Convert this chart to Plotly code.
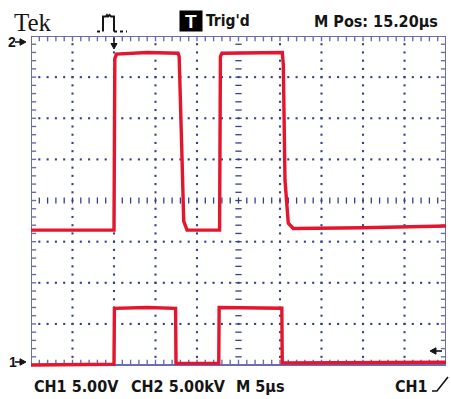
import plotly.graph_objects as go

# ---------------- data (time in µs, level in divisions) ----------------
ch2_t = [0, 10.0, 10.1, 10.3, 14.0, 17.72, 17.85, 17.95, 18.2, 18.4, 18.8, 22.72, 22.82, 23.0, 27.0, 30.28, 30.4, 30.6, 31.0, 31.6, 40.0, 50.0]
ch2_v = [-0.72, -0.72, 3.45, 3.56, 3.6, 3.58, 3.5, 2.5, 1.0, -0.5, -0.72, -0.72, 3.5, 3.58, 3.6, 3.6, 3.3, 0.5, -0.55, -0.68, -0.66, -0.62]

ch1_t = [0, 10.0, 10.05, 14.0, 17.42, 17.47, 20.0, 22.62, 22.67, 27.0, 30.22, 30.27, 40.0, 50.0]
ch1_v = [-4.0, -3.98, -2.62, -2.6, -2.62, -3.96, -3.96, -3.96, -2.6, -2.6, -2.62, -3.95, -3.95, -3.93]

top_labels = ["Tek", "Trig'd", "M Pos: 15.20µs"]
bottom_labels = ["CH1 5.00V", "CH2 5.00kV", "M 5µs", "CH1"]
channel_markers = ["2", "1"]

# ---------------- layout geometry ----------------
W, H = 451, 399
ML, MR, MT, MB = 31, 5, 36, 29
PW, PH = W - ML - MR, H - MT - MB
X_RANGE = [0, 50]
Y_RANGE = [-4.12, 4.0]

RED = "#e3162d"
FRAME = "#6a6cb6"
DOT = "#34408a"
INK = "#151515"


def px(x):
    return (x - ML) / PW


def py(y):
    return 1 - (y - MT) / PH


fig = go.Figure()

# ----- graticule segments -----
seg_x, seg_y = [], []


def seg(x0, y0, x1, y1):
    seg_x.extend([x0, x1, None])
    seg_y.extend([y0, y1, None])


tick_v = 0.13   # ~5px vertical
tick_h = 0.62   # ~5px horizontal
for i in range(1, 50):
    seg(i, 4, i, 4 - tick_v)
    seg(i, -4, i, -4 + tick_v)
yv = [round(-3.8 + 0.2 * k, 2) for k in range(39)]
for j in yv:
    seg(0, j, tick_h, j)
    seg(50, j, 50 - tick_h, j)

fig.add_trace(go.Scatter(x=seg_x, y=seg_y, mode="lines",
                         line=dict(color=FRAME, width=1.4),
                         hoverinfo="skip", showlegend=False))

# center cross ticks
cx, cy = [], []
for i in range(1, 50):
    cx.extend([i, i, None])
    cy.extend([-0.075, 0.075, None])
for j in yv:
    cx.extend([25 - 0.38, 25 + 0.38, None])
    cy.extend([j, j, None])
fig.add_trace(go.Scatter(x=cx, y=cy, mode="lines",
                         line=dict(color=DOT, width=1.3),
                         hoverinfo="skip", showlegend=False))

# dotted grid lines
dx, dy = [], []
for xm in [5, 10, 15, 20, 30, 35, 40, 45]:
    for j in yv:
        dx.append(xm)
        dy.append(j)
for ym in [-3, -2, -1, 1, 2, 3]:
    for i in range(1, 50):
        dx.append(i)
        dy.append(ym)
fig.add_trace(go.Scatter(x=dx, y=dy, mode="markers",
                         marker=dict(color=DOT, size=2.1, symbol="square"),
                         hoverinfo="skip", showlegend=False))

# ----- signal traces -----
fig.add_trace(go.Scatter(x=ch2_t, y=ch2_v, mode="lines",
                         line=dict(color=RED, width=3.4),
                         hoverinfo="skip", showlegend=False))
fig.add_trace(go.Scatter(x=ch1_t, y=ch1_v, mode="lines",
                         line=dict(color=RED, width=3.4),
                         hoverinfo="skip", showlegend=False))

shapes = []
# frame
shapes.append(dict(type="rect", xref="x", yref="y", x0=0, x1=50, y0=-4, y1=4,
                   line=dict(color=FRAME, width=2), layer="below"))


def path_shape(pts, close=False, fill=None, width=1.8, dash=None, color=INK):
    d = "M " + " L ".join(f"{px(x):.5f},{py(y):.5f}" for x, y in pts)
    if close:
        d += " Z"
    s = dict(type="path", xref="paper", yref="paper", path=d,
             line=dict(color=color, width=width))
    if dash:
        s["line"]["dash"] = dash
    if fill:
        s["fillcolor"] = fill
    return s


# pulse (trigger type) icon
shapes.append(path_shape([(103, 31.5), (103, 16.5), (106, 16.5), (107, 15), (108, 16.5),
                          (109.5, 15), (111, 16.5), (114, 16.5), (114, 31.5)], width=2))
shapes.append(path_shape([(97, 31.5), (103, 31.5)], width=2, dash="dot"))
shapes.append(path_shape([(114, 31.5), (127, 31.5)], width=2, dash="dot"))

# trigger position arrow (down)
shapes.append(path_shape([(114, 37.5), (114, 44)], width=1.5))
shapes.append(path_shape([(111, 43.5), (117, 43.5), (114, 49)], close=True, fill=INK, width=1))

# channel markers arrows
for yy in (42, 362):
    shapes.append(path_shape([(15, yy), (21, yy)], width=1.6))
    shapes.append(path_shape([(20, yy - 3.2), (26, yy), (20, yy + 3.2)], close=True, fill=INK, width=1))

# trigger level arrow (left)
shapes.append(path_shape([(435, 351), (442, 351)], width=1.6))
shapes.append(path_shape([(436, 347.8), (430, 351), (436, 354.2)], close=True, fill=INK, width=1))

# rising edge symbol
shapes.append(path_shape([(432, 391), (437, 391), (448, 377)], width=1.6))

NARROW = "DejaVu Sans Condensed, DejaVu Sans, sans-serif"

annotations = []


def text(s, x, y, size, family=NARROW, xanchor="left", weight="bold", color=INK):
    annotations.append(dict(text=s, x=px(x), y=py(y), xref="paper", yref="paper",
                            xanchor=xanchor, yanchor="middle", showarrow=False,
                            font=dict(family=family, size=size, color=color, weight=weight)))


text(top_labels[0], 12, 23, 25, family="Liberation Serif, Times New Roman, serif", weight="normal")
text(top_labels[1], 204, 21, 15.5)
text(top_labels[2], 440, 21, 16, xanchor="right")

annotations.append(dict(text="<b>T</b>", x=px(191), y=py(21), xref="paper", yref="paper",
                        xanchor="center", yanchor="middle", showarrow=False,
                        bgcolor="#000000", width=22, height=20, borderpad=0,
                        font=dict(family="Liberation Sans, Arial, sans-serif", size=19, color="#ffffff")))

text(bottom_labels[0], 32, 386, 16)
text(bottom_labels[1], 129, 386, 16)
text(bottom_labels[2], 234, 386, 16)
text(bottom_labels[3], 430, 386, 16, xanchor="right")

text(channel_markers[0], 6, 42, 14, family="Liberation Sans, Arial, sans-serif")
text(channel_markers[1], 7, 362, 14, family="Liberation Sans, Arial, sans-serif")

fig.update_layout(
    width=W, height=H,
    margin=dict(l=ML, r=MR, t=MT, b=MB, pad=0),
    paper_bgcolor="#ffffff", plot_bgcolor="#ffffff",
    xaxis=dict(range=X_RANGE, showgrid=False, zeroline=False, showticklabels=False,
               ticks="", showline=False, fixedrange=True),
    yaxis=dict(range=Y_RANGE, showgrid=False, zeroline=False, showticklabels=False,
               ticks="", showline=False, fixedrange=True),
    shapes=shapes,
    annotations=annotations,
    showlegend=False,
)

fig.write_html("out.html", config={"displayModeBar": False},
               post_script="document.body.style.margin='0';document.body.style.overflow='hidden';")
